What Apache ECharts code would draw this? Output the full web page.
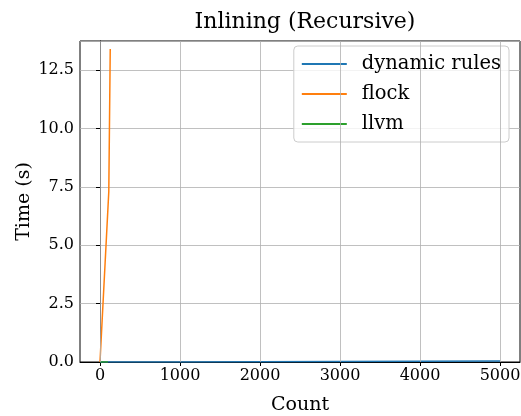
<!DOCTYPE html>
<html>
<head>
<meta charset="utf-8">
<script src="https://cdn.jsdelivr.net/npm/echarts@6.0.0/dist/echarts.min.js"></script>
<style>
  html, body { margin: 0; padding: 0; background: #fff; }
  #chart { width: 521px; height: 416px; }
</style>
</head>
<body>
<div id="chart"></div>
<script>
// donnees
const dynamicRules = [[0, 0.0], [1000, 0.005], [2000, 0.01], [3000, 0.02], [4000, 0.03], [5000, 0.04]];
const flock = [[0, 0.0], [110, 7.3], [128, 13.4]];
const llvm = [[0, 0.0], [50, 0.001], [100, 0.002]];

const xTicks = [0, 1000, 2000, 3000, 4000, 5000];
const yTicks = [0, 2.5, 5, 7.5, 10, 12.5];

const police = 'DejaVu Serif';

const chart = echarts.init(document.getElementById('chart'), null, { renderer: 'canvas' });

const lineSerie = (name, data, color) => ({
    name: name,
    type: 'line',
    data: data,
    symbol: 'none',
    lineStyle: { color: color, width: 1.5 },
    itemStyle: { color: color },
    animation: false
});

// lignes verticales de la grille (x demarre a -250)
const gridX = {
    silent: true,
    symbol: 'none',
    label: { show: false },
    lineStyle: { color: '#b0b0b0', type: 'solid', width: 0.8 },
    data: xTicks.map(v => ({ xAxis: v }))
};

const series = [
    lineSerie('dynamic rules', dynamicRules, '#1f77b4'),
    lineSerie('flock', flock, '#ff7f0e'),
    lineSerie('llvm', llvm, '#2ca02c')
];
series[0].markLine = gridX;
series[0].z = 3;

chart.setOption({
    animation: false,
    backgroundColor: '#fff',
    textStyle: { fontFamily: police },
    title: {
        text: 'Inlining (Recursive)',
        left: 300,
        textAlign: 'center',
        top: 6,
        textStyle: { fontFamily: police, fontSize: 22, fontWeight: 'normal', color: '#000' }
    },
    legend: {
        right: 12,
        top: 46,
        orient: 'vertical',
        itemWidth: 45,
        itemHeight: 2,
        itemGap: 10,
        padding: [8, 8, 8, 8],
        backgroundColor: 'rgba(255,255,255,0.8)',
        borderColor: '#cccccc',
        borderWidth: 1,
        borderRadius: 4,
        icon: 'rect',
        textStyle: { fontFamily: police, fontSize: 19.5, color: '#000', padding: [0, 0, 0, 10] },
        data: ['dynamic rules', 'flock', 'llvm']
    },
    grid: {
        left: 80, right: 1, top: 41, bottom: 54,
        outerBoundsMode: 'none',
        show: true, borderColor: '#000', borderWidth: 1
    },
    xAxis: {
        type: 'value',
        min: -250,
        max: 5250,
        name: 'Count',
        nameLocation: 'middle',
        nameGap: 34,
        nameTextStyle: { fontFamily: police, fontSize: 19, color: '#000' },
        axisLine: { show: true, onZero: false, lineStyle: { color: '#000' } },
        axisTick: { show: true, inside: false, length: 4, customValues: xTicks, lineStyle: { color: '#000' } },
        axisLabel: {
            customValues: xTicks, fontFamily: police, fontSize: 16, color: '#000', margin: 6,
            formatter: v => String(v)
        },
        splitLine: { show: false }
    },
    yAxis: {
        type: 'value',
        min: 0,
        max: 13.74,
        interval: 2.5,
        name: 'Time (s)',
        nameLocation: 'middle',
        nameGap: 46,
        nameMoveOverlap: false,
        nameTextStyle: { fontFamily: police, fontSize: 19, color: '#000' },
        axisLine: { show: true, lineStyle: { color: '#000' } },
        axisTick: { show: true, inside: false, length: 4, lineStyle: { color: '#000' } },
        axisLabel: {
            fontFamily: police, fontSize: 16, color: '#000', margin: 6,
            showMaxLabel: false,
            formatter: v => v.toFixed(1)
        },
        splitLine: { show: true, lineStyle: { color: '#b0b0b0', width: 0.8 } }
    },
    series: series
});
</script>
</body>
</html>
